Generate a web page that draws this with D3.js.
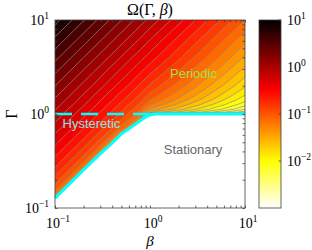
<!DOCTYPE html>
<html>
<head>
<meta charset="utf-8">
<script src="https://cdn.jsdelivr.net/npm/d3@7"></script>
<style>
body { margin: 0; background: #fff; }
svg { display: block; }
</style>
</head>
<body>
<div id="chart"></div>
<script>
// sample grid: log10(beta) per column, log10(Gamma) per row (bottom to top)
const logBeta = [-1, -0.8, -0.6, -0.4, -0.2, -0.1, 0, 0.1, 0.2, 0.4, 0.6, 0.8, 1];
const logGamma = [-1, -0.8, -0.6, -0.4, -0.2, -0.1, 0, 0.02, 0.05, 0.1, 0.15, 0.2, 0.3, 0.45, 0.6, 0.8, 1];

// log10 Omega, one row per Gamma value
// (below the stationary boundary the values are only placeholders, that part is clipped)
const logOmega = [
  [-1.65, -1.85, -2.05, -2.25, -2.45, -2.55, -3.2, -3.2, -3.2, -3.2, -3.2, -3.2, -3.2],
  [-1.01, -1.65, -1.85, -2.05, -2.25, -2.35, -3.2, -3.2, -3.2, -3.2, -3.2, -3.2, -3.2],
  [-0.70, -1.01, -1.65, -1.85, -2.05, -2.15, -3.2, -3.2, -3.2, -3.2, -3.2, -3.2, -3.2],
  [-0.47, -0.70, -1.01, -1.65, -1.85, -1.95, -3.2, -3.2, -3.2, -3.2, -3.2, -3.2, -3.2],
  [-0.26, -0.47, -0.70, -1.00, -1.65, -1.75, -3.2, -3.2, -3.2, -3.2, -3.2, -3.2, -3.2],
  [-0.15, -0.36, -0.58, -0.83, -1.19, -1.65, -3.2, -3.2, -3.2, -3.2, -3.2, -3.2, -3.2],
  [-0.05, -0.26, -0.47, -0.70, -0.97, -1.14, -3.2, -3.2, -3.2, -3.2, -3.2, -3.2, -3.2],
  [-0.03, -0.24, -0.45, -0.67, -0.94, -1.10, -1.56, -1.66, -1.76, -1.96, -2.16, -2.36, -2.56],
  [ 0.00, -0.21, -0.41, -0.64, -0.89, -1.04, -1.34, -1.44, -1.54, -1.74, -1.94, -2.14, -2.34],
  [ 0.05, -0.15, -0.36, -0.58, -0.82, -0.95, -1.17, -1.27, -1.37, -1.57, -1.77, -1.97, -2.17],
  [ 0.10, -0.10, -0.31, -0.52, -0.75, -0.88, -1.05, -1.15, -1.25, -1.45, -1.65, -1.85, -2.05],
  [ 0.15, -0.05, -0.26, -0.47, -0.69, -0.81, -0.96, -1.06, -1.16, -1.36, -1.56, -1.76, -1.96],
  [ 0.25,  0.05, -0.15, -0.36, -0.57, -0.69, -0.81, -0.91, -1.01, -1.21, -1.41, -1.61, -1.81],
  [ 0.40,  0.20,  0.00, -0.21, -0.41, -0.52, -0.63, -0.73, -0.83, -1.03, -1.23, -1.43, -1.63],
  [ 0.55,  0.35,  0.15, -0.05, -0.26, -0.36, -0.46, -0.56, -0.66, -0.86, -1.06, -1.26, -1.46],
  [ 0.75,  0.55,  0.35,  0.15, -0.05, -0.15, -0.26, -0.36, -0.46, -0.66, -0.86, -1.06, -1.26],
  [ 0.95,  0.75,  0.55,  0.35,  0.15,  0.05, -0.05, -0.15, -0.25, -0.45, -0.65, -0.85, -1.05]
];

// contour levels (log10 Omega)
const levels = [-3, -2.87, -2.74, -2.61, -2.48, -2.35, -2.22, -2.09, -1.96, -1.83, -1.70,
  -1.57, -1.44, -1.31, -1.18, -1.05, -0.92, -0.79, -0.66, -0.53, -0.40, -0.27, -0.14,
  -0.01, 0.12, 0.25, 0.38, 0.51, 0.64, 0.77, 0.90];

// edge of the stationary region (log10 beta, log10 Gamma_c)
const boundaryBeta = [-1, -0.7, -0.5, -0.4, -0.3, -0.2, -0.1, -0.05, 0, 0.05, 1];
const boundaryGamma = [-0.895, -0.595, -0.4, -0.31, -0.21, -0.14, -0.07, -0.035, -0.01, 0, 0];

// dashed line Gamma = 1 across the hysteretic part
const dashBeta = [0.1, 1];
const dashGamma = [1, 1];

const axisTicks = [0.1, 1, 10];
const axisExp = ["\u22121", "0", "1"];
const cbarTicks = [-2, -1, 0, 1];
const cbarExp = ["\u22122", "\u22121", "0", "1"];

const regions = [
  {text: "Periodic", b: 2.87, g: 2.42, color: "#a6e04c"},
  {text: "Hysteretic", b: 0.242, g: 0.71, color: "#8ae6e6"},
  {text: "Stationary", b: 2.84, g: 0.375, color: "#666666"}
];

const width = 312, height = 250;
const pLeft = 55, pRight = 245, pTop = 20, pBottom = 208;

const svg = d3.select("#chart").append("svg")
    .attr("width", width)
    .attr("height", height)
    .style("font-family", "'Liberation Serif', serif");

const x = d3.scaleLog().domain([0.1, 10]).range([pLeft, pRight]);
const y = d3.scaleLog().domain([0.1, 10]).range([pBottom, pTop]);
const cy = d3.scaleLinear().domain([-3, 1]).range([pBottom, pTop]);

// flipped "hot" colormap: white -> yellow -> red -> black
function hot(v) {
  const cl = t => Math.max(0, Math.min(1, t));
  const t = 1 - cl((v + 3) / 4);
  return d3.rgb(255 * cl(t / 0.375), 255 * cl((t - 0.375) / 0.375), 255 * cl((t - 0.75) / 0.25)) + "";
}

const defs = svg.append("defs");

// clip: the part above the stationary boundary
const clipPts = boundaryBeta.map((b, i) => [x(10 ** b), y(10 ** boundaryGamma[i])]);
clipPts.push([pRight, pTop], [pLeft, pTop]);
defs.append("clipPath").attr("id", "periodic")
  .append("polygon")
    .attr("points", clipPts.map(p => p.join(",")).join(" "));

// grid index -> position
const colIdx = d3.scaleLinear().domain(d3.range(logBeta.length)).range(logBeta);
const rowIdx = d3.scaleLinear().domain(d3.range(logGamma.length)).range(logGamma);
const proj = d3.geoTransform({
  point: function (u, v) {
    this.stream.point(x(10 ** colIdx(u - 0.5)), y(10 ** rowIdx(v - 0.5)));
  }
});
const path = d3.geoPath(proj);

const contours = d3.contours()
    .size([logBeta.length, logGamma.length])
    .smooth(true)
    .thresholds(levels)(logOmega.flat());

const step = levels[1] - levels[0];
const field = svg.append("g").attr("clip-path", "url(#periodic)");

field.selectAll("path")
  .data(contours)
  .join("path")
    .attr("d", path)
    .attr("fill", d => hot(d.value + step / 2))
    .attr("stroke", "#8c8c8c")
    .attr("stroke-width", 0.7);

// cyan boundaries
const line = d3.line().x(d => d[0]).y(d => d[1]);
svg.append("path")
    .attr("d", line(dashBeta.map((b, i) => [x(b), y(dashGamma[i])])))
    .attr("fill", "none")
    .attr("stroke", "#00ffff")
    .attr("stroke-width", 2.5)
    .attr("stroke-dasharray", "17,9");

svg.append("path")
    .attr("d", line(boundaryBeta.map((b, i) => [x(10 ** b), y(10 ** boundaryGamma[i])])))
    .attr("fill", "none")
    .attr("stroke", "#00ffff")
    .attr("stroke-width", 3);

// region names
svg.selectAll(".region")
  .data(regions)
  .join("text")
    .attr("class", "region")
    .attr("x", d => x(d.b))
    .attr("y", d => y(d.g))
    .attr("text-anchor", "middle")
    .attr("fill", d => d.color)
    .style("font-family", "'Liberation Sans', Arial, sans-serif")
    .style("font-size", "13px")
    .text(d => d.text);

// axes: box with inward log ticks on every side
const minor = [];
[0.1, 1].forEach(dec => { for (let m = 2; m <= 9; m++) minor.push(m * dec); });
const allTicks = axisTicks.concat(minor);

function styleAxis(g) {
  g.select(".domain").remove();
  g.selectAll("line").attr("stroke", "#404040").attr("stroke-width", 0.8);
}
svg.append("g").attr("transform", `translate(0,${pBottom})`)
  .call(d3.axisBottom(x).tickValues(allTicks).tickSize(-2.5).tickFormat("")).call(styleAxis);
svg.append("g").attr("transform", `translate(0,${pTop})`)
  .call(d3.axisTop(x).tickValues(allTicks).tickSize(-2.5).tickFormat("")).call(styleAxis);
svg.append("g").attr("transform", `translate(${pLeft},0)`)
  .call(d3.axisLeft(y).tickValues(allTicks).tickSize(-2.5).tickFormat("")).call(styleAxis);
svg.append("g").attr("transform", `translate(${pRight},0)`)
  .call(d3.axisRight(y).tickValues(allTicks).tickSize(-2.5).tickFormat("")).call(styleAxis);

svg.append("rect")
    .attr("x", pLeft).attr("y", pTop)
    .attr("width", pRight - pLeft).attr("height", pBottom - pTop)
    .attr("fill", "none")
    .attr("stroke", "#404040")
    .attr("stroke-width", 0.8);

function power(sel, exp) {
  sel.append("tspan").text("10");
  sel.append("tspan").attr("dy", -6).style("font-size", "9.5px").text(exp);
}

axisTicks.forEach((t, i) => {
  svg.append("text")
      .attr("x", x(t) + 3).attr("y", 228)
      .attr("text-anchor", "middle")
      .style("font-size", "14px")
      .call(power, axisExp[i]);
  svg.append("text")
      .attr("x", 49).attr("y", y(t) + 5)
      .attr("text-anchor", "end")
      .style("font-size", "14px")
      .call(power, axisExp[i]);
});

// colorbar
const cbLeft = 259, cbWidth = 22;
const grad = defs.append("linearGradient").attr("id", "cmap")
    .attr("x1", 0).attr("y1", 1).attr("x2", 0).attr("y2", 0);
grad.selectAll("stop")
  .data(d3.range(0, 1.0001, 0.025))
  .join("stop")
    .attr("offset", d => d)
    .attr("stop-color", d => hot(-3 + 4 * d));

svg.append("rect")
    .attr("x", cbLeft).attr("y", pTop)
    .attr("width", cbWidth).attr("height", pBottom - pTop)
    .attr("fill", "url(#cmap)")
    .attr("stroke", "#404040")
    .attr("stroke-width", 0.8);

cbarTicks.forEach((t, i) => {
  svg.append("line")
      .attr("x1", cbLeft + cbWidth - 2.5).attr("x2", cbLeft + cbWidth)
      .attr("y1", cy(t)).attr("y2", cy(t))
      .attr("stroke", "#404040").attr("stroke-width", 0.8);
  svg.append("text")
      .attr("x", 287).attr("y", cy(t) + 5)
      .style("font-size", "14px")
      .call(power, cbarExp[i]);
});

// title and axis labels
const title = svg.append("text")
    .attr("x", 150).attr("y", 15)
    .attr("text-anchor", "middle")
    .style("font-size", "16px");
title.append("tspan").text("\u03A9(\u0393, ");
title.append("tspan").style("font-style", "italic").text("\u03B2");
title.append("tspan").text(")");

svg.append("text")
    .attr("x", 150).attr("y", 246)
    .attr("text-anchor", "middle")
    .style("font-size", "15px")
    .style("font-style", "italic")
    .text("\u03B2");

svg.append("text")
    .attr("transform", `translate(17,${y(1)}) rotate(-90)`)
    .attr("text-anchor", "middle")
    .style("font-size", "16px")
    .text("\u0393");
</script>
</body>
</html>
